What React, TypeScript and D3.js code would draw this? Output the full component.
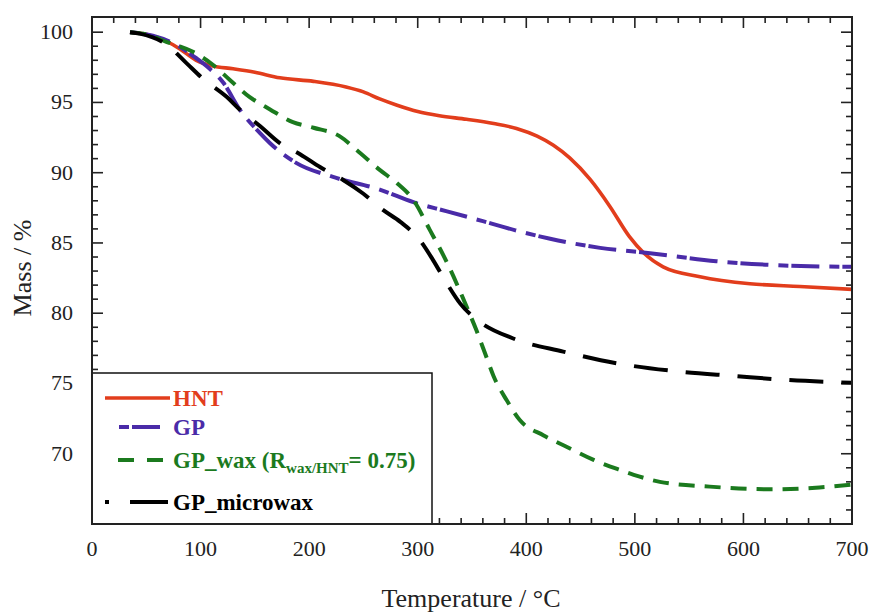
import React from "react";
import * as d3 from "d3";

const hntT = [35, 50, 70, 81, 96, 111, 130, 150, 173, 204, 234, 250, 265, 281, 300, 320, 345, 370, 391, 410, 425, 440, 459, 477, 495, 508, 526, 560, 606, 652, 700];
const hntM = [100, 99.85, 99.3, 98.8, 98.0, 97.6, 97.4, 97.15, 96.75, 96.5, 96.1, 95.75, 95.25, 94.8, 94.35, 94.05, 93.8, 93.5, 93.15, 92.6, 91.95, 91.05, 89.5, 87.6, 85.45, 84.3, 83.3, 82.6, 82.1, 81.9, 81.7];

const gpT = [35, 56, 80, 95, 106, 121, 136, 155, 164, 188, 222, 265, 296, 327, 360, 390, 422, 468, 514, 575, 637, 700];
const gpM = [100, 99.75, 99.0, 98.2, 97.55, 96.4, 94.5, 92.8, 92.1, 90.7, 89.7, 88.8, 87.9, 87.25, 86.55, 85.9, 85.3, 84.65, 84.27, 83.7, 83.4, 83.3];

const waxT = [35, 50, 69, 93, 111, 127, 145, 164, 185, 204, 228, 244, 265, 281, 296, 311, 327, 345, 354, 362, 370, 382, 394, 416, 437, 462, 486, 499, 523, 569, 625, 670, 700];
const waxM = [100, 99.85, 99.3, 98.6, 97.7, 96.6, 95.4, 94.5, 93.6, 93.2, 92.6, 91.6, 90.2, 89.25, 88.06, 85.95, 83.6, 80.47, 78.8, 77.15, 75.5, 73.8, 72.4, 71.3, 70.5, 69.56, 68.85, 68.5, 68.0, 67.66, 67.47, 67.6, 67.8];

const microT = [35, 44, 69, 87, 102, 124, 136, 155, 173, 192, 210, 231, 250, 268, 284, 302, 314, 327, 339, 357, 388, 434, 486, 542, 591, 640, 700];
const microM = [100, 99.9, 99.1, 97.8, 96.7, 95.4, 94.5, 93.3, 92.1, 91.3, 90.4, 89.5, 88.5, 87.35, 86.5, 85.2, 83.8, 82.1, 80.7, 79.4, 78.2, 77.27, 76.4, 75.84, 75.54, 75.25, 75.05];

const xTickLabels = [0, 100, 200, 300, 400, 500, 600, 700];
const yTickLabels = [70, 75, 80, 85, 90, 95, 100];

const seriesNames = ["HNT", "GP", "GP_wax", "GP_microwax"];
const seriesColors = ["#E23D1C", "#4A2BA8", "#1B7A1E", "#000000"];
const seriesDash = ["none", "10,3,28,10", "16,10", "34,18"];

const W = 870, H = 612;
const L = 92, R = 852, T = 17, B = 524;
const FONT = '"Liberation Serif", "Times New Roman", Times, "Noto Serif", "DejaVu Serif", Tinos, serif';

export default function App() {
  const x = d3.scaleLinear().domain([0, 700]).range([L, R]);
  const y = d3.scaleLinear().domain([65, 101.08]).range([B, T]);
  const line = d3
    .line<[number, number]>()
    .x((d) => x(d[0]))
    .y((d) => y(d[1]))
    .curve(d3.curveMonotoneX);

  const series = [
    [hntT, hntM],
    [gpT, gpM],
    [waxT, waxM],
    [microT, microM],
  ].map(([ts, ms]) => ts.map((t, i) => [t, ms[i]] as [number, number]));

  const xMinor = d3.range(0, 701, 20);
  const yMinor = d3.range(66, 101, 1);

  const ticks: any[] = [];
  xMinor.forEach((v, i) => {
    const len = v % 100 === 0 ? 11 : 6;
    ticks.push(<line key={"xb" + i} x1={x(v)} x2={x(v)} y1={B} y2={B - len} />);
    ticks.push(<line key={"xt" + i} x1={x(v)} x2={x(v)} y1={T} y2={T + len} />);
  });
  yMinor.forEach((v, i) => {
    const len = v % 5 === 0 ? 11 : 6;
    ticks.push(<line key={"yl" + i} x1={L} x2={L + len} y1={y(v)} y2={y(v)} />);
    ticks.push(<line key={"yr" + i} x1={R} x2={R - len} y1={y(v)} y2={y(v)} />);
  });

  const legY = [398, 427, 460, 502];
  const legX1 = 105, legX2 = 167;
  const ts = { fontFamily: FONT };

  return (
    <svg width={W} height={H} style={{ position: "absolute", left: 0, top: 0, background: "#fff", fontFamily: FONT }}>
      <rect x={0} y={0} width={W} height={H} fill="#fff" />
      <defs>
        <clipPath id="plot">
          <rect x={L} y={T} width={R - L} height={B - T} />
        </clipPath>
      </defs>
      <g stroke="#222" strokeWidth={1.6}>{ticks}</g>
      <g clipPath="url(#plot)">
        {series.map((s, i) => (
          <path
            key={i}
            d={line(s) || ""}
            fill="none"
            stroke={seriesColors[i]}
            strokeWidth={i === 0 ? 3.6 : 4}
            strokeDasharray={seriesDash[i]}
          />
        ))}
      </g>
      <rect x={L} y={373} width={432 - L} height={B - 373} fill="#fff" stroke="#111" strokeWidth={1.5} />
      <line x1={legX1} x2={legX2 + 3} y1={legY[0]} y2={legY[0]} stroke={seriesColors[0]} strokeWidth={3.6} />
      <line x1={119} x2={legX2 + 3} y1={legY[1]} y2={legY[1]} stroke={seriesColors[1]} strokeWidth={4} strokeDasharray="10,3,28,10" />
      <line x1={118} x2={legX2 + 1} y1={legY[2]} y2={legY[2]} stroke={seriesColors[2]} strokeWidth={4} strokeDasharray="16,13" />
      <line x1={legX1} x2={legX2 + 1} y1={legY[3]} y2={legY[3]} stroke={seriesColors[3]} strokeWidth={4} strokeDasharray="4,21,40" />
      <g fontWeight="bold" fontSize={23} style={ts}>
        <text x={173} y={legY[0] + 8} fill={seriesColors[0]} style={ts}>{seriesNames[0]}</text>
        <text x={173} y={legY[1] + 8} fill={seriesColors[1]} style={ts}>{seriesNames[1]}</text>
        <text x={173} y={legY[2] + 8} fill={seriesColors[2]} style={ts}>
          GP_wax (R
          <tspan fontSize={15} dy={5}>wax/HNT</tspan>
          <tspan dy={-5}>= 0.75)</tspan>
        </text>
        <text x={173} y={legY[3] + 8} fill={seriesColors[3]} style={ts}>{seriesNames[3]}</text>
      </g>
      <rect x={L} y={T} width={R - L} height={B - T} fill="none" stroke="#222" strokeWidth={2} />
      <g fontSize={22} fill="#222" style={ts}>
        {xTickLabels.map((v) => (
          <text key={v} x={x(v)} y={556} textAnchor="middle" style={ts}>{v}</text>
        ))}
        {yTickLabels.map((v) => (
          <text key={v} x={73} y={y(v) + 7} textAnchor="end" style={ts}>{v}</text>
        ))}
      </g>
      <text x={471} y={607} textAnchor="middle" fontSize={26} fill="#222" style={ts}>Temperature / °C</text>
      <text transform="translate(31,268) rotate(-90)" textAnchor="middle" fontSize={26} fill="#222" style={ts}>Mass / %</text>
    </svg>
  );
}
